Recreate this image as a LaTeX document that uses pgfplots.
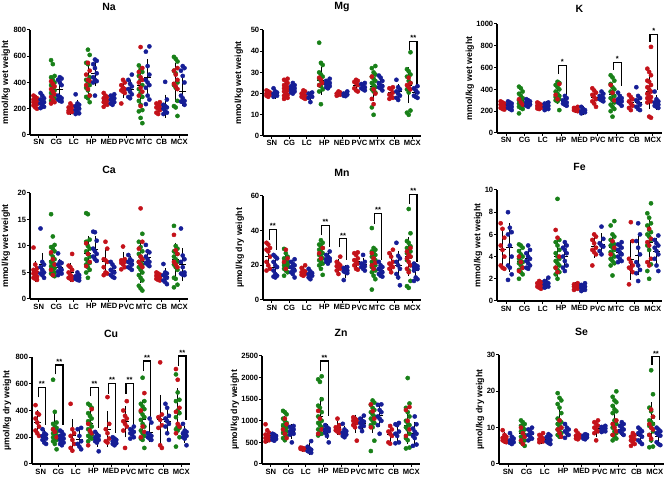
\documentclass[border=0pt]{standalone}
\usepackage{fontspec}
\setmainfont{Liberation Sans}
\usepackage{pgfplots}
\pgfplotsset{compat=1.18}
\definecolor{cred}{RGB}{196,18,26}
\definecolor{cgreen}{RGB}{24,128,24}
\definecolor{cblue}{RGB}{22,30,150}
\pgfplotsset{
  elem/.style={scale only axis, anchor=south west, xmin=0.5, xmax=9.5, ymin=0, clip=false,
    width=158pt,
    axis x line*=bottom, axis y line*=left, axis line style={line width=1.2pt},
    xtick={1,...,9}, xticklabels={SN,CG,LC,HP,MED,PVC,MTC,CB,MCX},
    tick align=outside, major tick length=3pt, tick style={line width=1pt, black},
    tick label style={font=\bfseries\fontsize{7.6}{9}\selectfont},
    x tick label style={inner sep=1.5pt},
    y tick label style={inner sep=0.6pt},
    /pgf/number format/assume math mode=true, /pgf/number format/1000 sep={},
    title style={font=\bfseries\fontsize{10.5}{12}\selectfont, at={(0.5,1)}, anchor=center, yshift=17pt},
    ylabel style={font=\bfseries\fontsize{8.8}{10}\selectfont, anchor=center}},
  yl/.style={ylabel style={at={(axis description cs:#1,0.5)}}},
  L/.style={only marks, mark=*, mark size=2.1pt, x filter/.expression={x-0.2+0.1*(mod(\coordindex,3)-1)}},
  R/.style={only marks, mark=*, mark size=2.1pt, x filter/.expression={x+0.2+0.1*(mod(\coordindex,3)-1)}},
  EB/.style={only marks, black, mark=-, mark size=3.5pt, mark options={line width=0.9pt},
    error bars/.cd, y dir=both, y explicit, error bar style={line width=0.8pt, black},
    error mark options={mark size=2.2pt, line width=0.8pt, black}},
  EBL/.style={x filter/.expression={x-0.2}, EB},
  EBR/.style={x filter/.expression={x+0.2}, EB},
}
% bracket: left x, right x, top, left bottom, right bottom, text
\newcommand{\brk}[6]{%
  \draw[line width=1.2pt] (axis cs:#1,#4) -- (axis cs:#1,#3) -- (axis cs:#2,#3) -- (axis cs:#2,#5);
  \node[font=\bfseries\fontsize{7.5}{8}\selectfont, anchor=south, inner sep=0.6pt] at (axis cs:{(#1+#2)/2},#3) {#6};}
\begin{document}
\begin{tikzpicture}
\useasboundingbox (0,0) rectangle (669pt,478pt);

% ---------------- Na
\begin{axis}[elem, at={(30pt,343pt)}, height=105pt, ymax=800, ytick={0,200,...,800},
  title={Na}, ylabel={mmol/kg wet weight}, yl=-0.152]
\addplot[EBL] coordinates {(1,250)+-(0,30) (2,350)+-(0,80) (3,195)+-(0,25) (4,420)+-(0,110) (5,265)+-(0,30) (6,350)+-(0,50) (7,380)+-(0,140) (8,205)+-(0,35) (9,400)+-(0,130)};
\addplot[EBR] coordinates {(1,250)+-(0,35) (2,350)+-(0,75) (3,210)+-(0,40) (4,470)+-(0,80) (5,270)+-(0,25) (6,350)+-(0,55) (7,440)+-(0,120) (8,220)+-(0,70) (9,335)+-(0,95)};
\addplot[L, cgreen] coordinates {
(2,570)(2,540)(2,450)(2,440)(2,420)(2,400)(2,380)(2,360)(2,340)(2,320)(2,300)(2,280)(2,260)
(4,650)(4,610)(4,550)(4,540)(4,440)(4,420)(4,400)(4,380)(4,360)(4,340)(4,300)(4,290)(4,280)(4,250)
(7,530)(7,500)(7,480)(7,450)(7,420)(7,380)(7,350)(7,320)(7,290)(7,260)(7,230)(7,190)(7,180)(7,130)(7,90)
(9,595)(9,580)(9,560)(9,490)(9,470)(9,400)(9,380)(9,360)(9,260)(9,220)(9,210)(9,145)};
\addplot[L, cred] coordinates {
(1,300)(1,290)(1,280)(1,270)(1,260)(1,255)(1,250)(1,240)(1,235)(1,225)(1,210)(1,200)
(2,410)(2,390)(2,370)(2,350)(2,330)(2,310)(2,290)(2,270)(2,250)(2,240)
(3,240)(3,220)(3,210)(3,200)(3,190)(3,185)(3,180)(3,175)(3,170)
(4,550)(4,490)(4,460)(4,420)(4,410)(4,380)(4,350)(4,300)
(5,320)(5,300)(5,290)(5,280)(5,270)(5,260)(5,250)(5,240)(5,230)(5,215)
(6,420)(6,400)(6,380)(6,360)(6,350)(6,340)(6,330)(6,320)(6,240)
(7,670)(7,510)(7,480)(7,440)(7,420)(7,400)(7,360)(7,330)(7,300)(7,220)
(8,250)(8,240)(8,230)(8,220)(8,210)(8,200)(8,190)(8,170)(8,160)
(9,510)(9,490)(9,460)(9,420)(9,390)(9,370)(9,350)};
\addplot[R, cblue] coordinates {
(1,320)(1,300)(1,280)(1,270)(1,260)(1,250)(1,240)(1,230)(1,215)(1,205)
(2,440)(2,430)(2,420)(2,400)(2,380)(2,300)(2,290)(2,280)(2,270)(2,260)(2,255)
(3,310)(3,240)(3,230)(3,220)(3,210)(3,200)(3,190)(3,175)(3,165)(3,160)
(4,575)(4,565)(4,540)(4,510)(4,470)(4,440)(4,420)(4,410)(4,400)(4,300)
(5,310)(5,300)(5,290)(5,280)(5,270)(5,260)(5,250)(5,240)(5,230)
(6,460)(6,420)(6,390)(6,370)(6,350)(6,330)(6,310)(6,290)(6,280)
(7,675)(7,635)(7,525)(7,460)(7,420)(7,400)(7,380)(7,360)(7,300)(7,270)(7,235)
(8,405)(8,270)(8,230)(8,220)(8,210)(8,200)(8,180)(8,170)(8,160)
(9,525)(9,510)(9,490)(9,450)(9,400)(9,300)(9,280)(9,260)(9,255)(9,250)(9,230)};
\end{axis}

% ---------------- Mg
\begin{axis}[elem, at={(263pt,342pt)}, height=106pt, ymax=50, ytick={0,10,...,50},
  xticklabels={SN,CG,LC,HP,NED,PVC,MTX,CB,MCX},
  title={Mg}, ylabel={mmol/kg wet weight}, yl=-0.152]
\addplot[EBL] coordinates {(1,20)+-(0,1) (2,22.5)+-(0,2.8) (3,19.5)+-(0,1.3) (4,26)+-(0,5.5) (5,20)+-(0,0.7) (6,24)+-(0,2) (7,23.5)+-(0,6) (8,20.5)+-(0,2) (9,24)+-(0,7.5)};
\addplot[EBR] coordinates {(1,20)+-(0,1.3) (2,22.3)+-(0,1.5) (3,18.7)+-(0,1.5) (4,24.5)+-(0,1.4) (5,19.7)+-(0,0.7) (6,23)+-(0,1.2) (7,24.5)+-(0,2.2) (8,20.8)+-(0,2.6) (9,20.5)+-(0,2)};
\addplot[L, cgreen] coordinates {
(4,44)(4,34.5)(4,33.5)(4,30)(4,29)(4,28)(4,27)(4,26)(4,25)(4,24)(4,23.5)(4,22)(4,21)(4,15)
(7,33)(7,32)(7,30)(7,29)(7,28)(7,27)(7,26)(7,25)(7,24)(7,23)(7,22)(7,21)(7,20.5)(7,13.5)(7,10)
(9,39.5)(9,31.5)(9,30.5)(9,29)(9,28)(9,26)(9,25)(9,22)(9,20.5)(9,12)(9,11)(9,10)};
\addplot[L, cred] coordinates {
(1,21.5)(1,21)(1,20.5)(1,20)(1,20)(1,19.5)(1,19)(1,18.5)
(2,27)(2,26.5)(2,26)(2,25)(2,24)(2,23.5)(2,23)(2,22.5)(2,22)(2,21.5)(2,21)(2,20)(2,19.5)(2,19)(2,18.5)(2,18)(2,17.5)
(3,21.5)(3,21)(3,20)(3,19.5)(3,19)(3,18.5)(3,18)(3,17.5)
(4,27.5)(4,26.5)(4,25)(4,24)
(5,21)(5,20.5)(5,20)(5,19.8)(5,19.5)(5,19)
(6,26.5)(6,26)(6,25.5)(6,25)(6,24)(6,22.5)(6,21.5)(6,21)
(7,28)(7,22)(7,20)(7,17.5)(7,15)
(8,23)(8,22.5)(8,22)(8,20.5)(8,19.5)(8,19)(8,18)(8,17.5)
(9,27.5)(9,25)(9,24)(9,23)(9,22)};
\addplot[R, cblue] coordinates {
(1,22.5)(1,21)(1,20.5)(1,20)(1,19.5)(1,19)(1,18.5)
(2,25)(2,24)(2,23.5)(2,23)(2,22.5)(2,22)(2,21.5)(2,21)(2,20.5)(2,20)
(3,20.5)(3,20)(3,19)(3,18.5)(3,18)(3,16)
(4,27)(4,26)(4,25.5)(4,25)(4,24.5)(4,24)(4,23.5)(4,23)(4,22.5)
(5,21)(5,20)(5,19.7)(5,19.5)(5,19)(5,18.8)
(6,25)(6,24.5)(6,23.5)(6,23)(6,22.5)(6,22)(6,21.5)
(7,28.5)(7,27.5)(7,26)(7,25)(7,24)(7,23.5)(7,23)(7,22.5)(7,21.5)
(8,26.5)(8,23)(8,22)(8,21)(8,20)(8,19)(8,18)(8,17)
(9,23.5)(9,22.5)(9,21.5)(9,20.5)(9,19)(9,18.5)(9,18)};
\brk{8.85}{9.27}{44.5}{40.6}{24}{**}
\end{axis}

% ---------------- K
\begin{axis}[elem, at={(497pt,345pt)}, width=165pt, height=109pt, ymax=1000, ytick={0,200,...,1000},
  title={K}, title style={yshift=-8pt}, ylabel={mmol/kg wet weight}, yl=-0.164]
\addplot[EBL] coordinates {(1,250)+-(0,25) (2,295)+-(0,60) (3,247)+-(0,20) (4,350)+-(0,65) (5,215)+-(0,13) (6,330)+-(0,55) (7,350)+-(0,90) (8,280)+-(0,50) (9,380)+-(0,140)};
\addplot[EBR] coordinates {(1,250)+-(0,27) (2,275)+-(0,25) (3,245)+-(0,25) (4,290)+-(0,32) (5,205)+-(0,20) (6,330)+-(0,30) (7,300)+-(0,35) (8,280)+-(0,60) (9,280)+-(0,45)};
\addplot[L, cgreen] coordinates {
(2,425)(2,410)(2,380)(2,360)(2,340)(2,320)(2,300)(2,290)(2,280)(2,270)(2,260)(2,250)(2,240)(2,230)(2,220)(2,180)
(4,470)(4,460)(4,440)(4,420)(4,400)(4,380)(4,360)(4,340)(4,330)(4,320)(4,310)(4,300)(4,290)(4,210)
(7,530)(7,510)(7,480)(7,450)(7,420)(7,400)(7,380)(7,360)(7,340)(7,320)(7,300)(7,280)(7,260)(7,240)(7,220)(7,200)(7,150)};
\addplot[L, cred] coordinates {
(1,290)(1,280)(1,270)(1,260)(1,250)(1,240)(1,230)(1,220)(1,215)
(2,310)(2,280)(2,260)
(3,280)(3,270)(3,260)(3,250)(3,240)(3,230)(3,225)(3,220)
(4,450)(4,350)(4,310)
(5,240)(5,230)(5,220)(5,215)(5,210)(5,205)(5,200)
(6,410)(6,390)(6,370)(6,350)(6,330)(6,310)(6,290)(6,270)(6,240)
(7,440)(7,370)(7,300)
(8,350)(8,330)(8,310)(8,290)(8,270)(8,250)(8,230)(8,210)
(9,790)(9,590)(9,560)(9,530)(9,480)(9,470)(9,440)(9,420)(9,400)(9,380)(9,360)(9,340)(9,330)(9,320)(9,300)(9,290)(9,280)(9,150)(9,140)};
\addplot[R, cblue] coordinates {
(1,290)(1,280)(1,270)(1,260)(1,250)(1,240)(1,230)(1,220)(1,210)
(2,310)(2,300)(2,290)(2,280)(2,270)(2,260)(2,250)(2,240)
(3,280)(3,270)(3,260)(3,250)(3,240)(3,230)(3,220)(3,210)
(4,340)(4,320)(4,300)(4,290)(4,280)(4,270)(4,260)(4,250)
(5,240)(5,220)(5,210)(5,200)(5,195)(5,190)(5,180)
(6,380)(6,360)(6,340)(6,330)(6,320)(6,310)(6,300)(6,290)
(7,370)(7,340)(7,320)(7,310)(7,300)(7,290)(7,280)(7,270)(7,250)
(8,420)(8,340)(8,320)(8,300)(8,280)(8,260)(8,240)(8,220)(8,210)
(9,380)(9,310)(9,290)(9,280)(9,270)(9,260)(9,250)(9,240)(9,230)};
\brk{3.85}{4.27}{620}{540}{353}{*}
\brk{6.85}{7.27}{650}{577}{432}{*}
\brk{8.85}{9.27}{905}{837}{399}{*}
\end{axis}

% ---------------- Ca
\begin{axis}[elem, at={(30pt,179pt)}, height=106pt, ymax=20, ytick={0,5,...,20},
  title={Ca}, ylabel={mmol/kg wet weight}, yl=-0.152]
\addplot[EBL] coordinates {(1,5.2)+-(0,1.6) (2,7.2)+-(0,2.5) (3,5)+-(0,1.4) (4,8.5)+-(0,3) (5,7)+-(0,2.1) (6,7.2)+-(0,1.2) (7,7)+-(0,3.5) (8,4.2)+-(0,0.5) (9,7.4)+-(0,2.8)};
\addplot[EBR] coordinates {(1,6.5)+-(0,1.8) (2,6)+-(0,1.2) (3,4.1)+-(0,0.5) (4,9.4)+-(0,2.1) (5,5.3)+-(0,1) (6,6.8)+-(0,0.9) (7,7.8)+-(0,1.3) (8,4.3)+-(0,1.1) (9,6.5)+-(0,2.7)};
\addplot[L, cgreen] coordinates {
(2,16)(2,11.8)(2,10.2)(2,9.8)(2,9.5)(2,9)(2,8.5)(2,8)(2,7.5)(2,7)(2,6.8)(2,6.5)(2,6.2)(2,6)(2,5.8)(2,5.5)(2,5.2)(2,5)(2,4.8)(2,4.5)(2,4.3)
(4,16.2)(4,16)(4,11.2)(4,10.8)(4,10)(4,9.5)(4,9)(4,8.5)(4,8)(4,7.5)(4,7)(4,6.8)(4,6.5)(4,6)(4,5.5)(4,5)(4,4)
(7,12.3)(7,10.8)(7,9.8)(7,9)(7,8.5)(7,8)(7,7.5)(7,7)(7,6.8)(7,6.5)(7,6)(7,5.5)(7,5)(7,4.5)(7,4)(7,3.5)(7,2.5)(7,2)(7,1.6)
(9,13.8)(9,10)(9,9.5)(9,9)(9,8.8)(9,8.5)(9,8)(9,7.5)(9,7)(9,6.5)(9,6)(9,5.5)(9,4)(9,3.8)(9,2.7)(9,2.2)};
\addplot[L, cred] coordinates {
(1,9.7)(1,6.5)(1,5.8)(1,5.5)(1,5.2)(1,5)(1,4.8)(1,4.5)(1,4.2)(1,4)(1,3.8)(1,3.6)
(2,8.8)(2,7.5)(2,6.5)(2,5.5)(2,4.5)
(3,8.5)(3,6.3)(3,6)(3,5.5)(3,5)(3,4.5)(3,4.2)(3,4)(3,3.8)(3,3.6)
(4,10.5)(4,8.5)(4,7)(4,6.2)
(5,10.8)(5,9.5)(5,7.5)(5,7.3)(5,7)(5,6)(5,5)(5,4.8)(5,4.5)
(6,9.9)(6,7.5)(6,7.3)(6,7.2)(6,7)(6,6.8)(6,6.5)(6,6)(6,5.6)
(7,17.1)(7,10.8)(7,9.5)(7,8)(7,7.5)(7,7)(7,6.5)(7,6)
(8,5)(8,4.8)(8,4.6)(8,4.4)(8,4.2)(8,4)(8,3.8)(8,3.6)(8,3.5)
(9,12.1)(9,9.2)(9,8.5)(9,7)(9,6.5)(9,6)};
\addplot[R, cblue] coordinates {
(1,13.3)(1,7)(1,6.5)(1,6)(1,5.5)(1,5)(1,4.8)(1,4.5)(1,4)
(2,8.6)(2,7)(2,6.8)(2,6.5)(2,6)(2,5.5)(2,5.2)(2,5)(2,4.8)(2,4.5)
(3,5)(3,4.5)(3,4.3)(3,4.2)(3,4)(3,3.8)(3,3.6)(3,3.5)
(4,12.7)(4,12.6)(4,11)(4,9.5)(4,9)(4,8.5)(4,8)(4,7.5)(4,7.2)
(5,7)(5,6.5)(5,6)(5,5.5)(5,5.2)(5,5)(5,4.5)(5,4.2)(5,4)
(6,8.3)(6,7.5)(6,7.2)(6,7)(6,6.8)(6,6.5)(6,6)(6,5.8)(6,5.5)
(7,10.2)(7,9)(7,8.8)(7,8)(7,7.5)(7,7)(7,6.8)(7,6.5)(7,6.2)
(8,6.6)(8,5)(8,4.8)(8,4.5)(8,4.2)(8,4)(8,3.5)(8,3.2)(8,2.8)
(9,13.3)(9,8.2)(9,7.5)(9,7)(9,6)(9,5)(9,4.8)(9,4.6)(9,4.5)};
\end{axis}

% ---------------- Mn
\begin{axis}[elem, at={(263pt,178pt)}, height=104pt, ymax=60, ytick={0,20,40,60},
  title={Mn}, ylabel={µmol/kg dry weight}, yl=-0.146]
\addplot[EBL] coordinates {(1,25)+-(0,6) (2,21)+-(0,3.8) (3,16.3)+-(0,1.9) (4,26)+-(0,5) (5,19.5)+-(0,3) (6,22.5)+-(0,3.5) (7,21)+-(0,6.5) (8,21.6)+-(0,4.2) (9,25)+-(0,10)};
\addplot[EBR] coordinates {(1,19)+-(0,4.5) (2,18.4)+-(0,3.2) (3,14.8)+-(0,1.9) (4,23.8)+-(0,2.1) (5,16.4)+-(0,2.3) (6,20.3)+-(0,2.8) (7,17.1)+-(0,2.8) (8,20)+-(0,7) (9,16.9)+-(0,3.5)};
\addplot[L, cgreen] coordinates {
(2,29.5)(2,27)(2,25)(2,24)(2,23)(2,22)(2,21.5)(2,21)(2,20.5)(2,20)(2,19.5)(2,19)(2,18)(2,17)(2,16)(2,14)
(4,34.5)(4,33)(4,32)(4,31)(4,30)(4,29)(4,28)(4,27)(4,26)(4,25)(4,24)(4,23)(4,22)(4,21)(4,20)(4,18)(4,14.5)
(7,41.5)(7,30)(7,29)(7,28)(7,27)(7,26)(7,25)(7,24)(7,23)(7,22)(7,21)(7,20)(7,19)(7,18)(7,17)(7,16)(7,14)(7,12)(7,6)
(9,52.5)(9,38.5)(9,34)(9,33)(9,31)(9,30)(9,29)(9,28)(9,27)(9,26)(9,25)(9,23)(9,17)(9,11)(9,8)(9,7)};
\addplot[L, cred] coordinates {
(1,33)(1,32)(1,30)(1,29)(1,28)(1,25)(1,22)(1,20)(1,18)(1,17)
(2,29)(2,24)(2,22)(2,18)
(3,20)(3,18.5)(3,17)(3,16.5)(3,16)(3,15.5)(3,15)(3,14.5)(3,14)
(4,30)(4,27)(4,24)
(5,25)(5,22)(5,21)(5,20)(5,19.5)(5,19)(5,18)(5,17)(5,15)
(6,27.5)(6,27)(6,26)(6,24)(6,23)(6,22)(6,21)(6,20)(6,18)(6,17.5)
(7,27)(7,24)(7,21.5)(7,20)(7,18)
(8,29)(8,27)(8,25)(8,22)(8,21)(8,20)(8,19)(8,18)(8,16)
(9,30)(9,28)(9,26)(9,25)(9,24)(9,22)(9,20)(9,18)(9,16)};
\addplot[R, cblue] coordinates {
(1,26)(1,25)(1,24)(1,22)(1,20)(1,19)(1,17)(1,15)(1,14)(1,13.5)(1,13)
(2,23.5)(2,22)(2,21)(2,20)(2,19)(2,18)(2,17)(2,16)(2,15)(2,13)
(3,18)(3,16.5)(3,15.5)(3,15)(3,14.5)(3,14)(3,13)(3,12)
(4,28)(4,26)(4,25)(4,24)(4,23.5)(4,23)(4,22.5)(4,22)(4,21)
(5,19)(5,18.5)(5,17.5)(5,17)(5,16.5)(5,16)(5,15.5)(5,11.5)
(6,26)(6,22)(6,21)(6,20)(6,19.5)(6,19)(6,18)(6,17)
(7,22)(7,20)(7,19)(7,18)(7,17)(7,16)(7,15)(7,14)(7,13.5)
(8,33)(8,25.5)(8,24)(8,22)(8,20)(8,18)(8,15)(8,13)(8,8.5)
(9,21)(9,20)(9,19.5)(9,19)(9,18.5)(9,18)(9,17)(9,13)(9,12)(9,11)};
\brk{0.85}{1.27}{40.8}{34.9}{28.8}{**}
\brk{3.85}{4.27}{42.9}{37.4}{30.3}{**}
\brk{4.85}{5.27}{35.3}{30.3}{23}{**}
\brk{6.85}{7.27}{49.8}{44}{23}{**}
\brk{8.85}{9.27}{60.8}{55.6}{22}{**}
\end{axis}

% ---------------- Fe
\begin{axis}[elem, at={(497pt,177pt)}, width=165pt, height=111pt, ymax=10, ytick={0,2,...,10},
  title={Fe}, ylabel={mmol/kg wet weight}, yl=-0.115]
\addplot[EBL] coordinates {(1,4.6)+-(0,1.6) (2,3.6)+-(0,0.9) (3,1.45)+-(0,0.25) (4,4)+-(0,1.6) (5,1.3)+-(0,0.2) (6,4.9)+-(0,0.8) (7,4.8)+-(0,1.1) (8,3.7)+-(0,1.6) (9,5.3)+-(0,1.8)};
\addplot[EBR] coordinates {(1,4.8)+-(0,2) (2,3.8)+-(0,0.7) (3,1.58)+-(0,0.3) (4,4)+-(0,0.9) (5,1.24)+-(0,0.22) (6,5.1)+-(0,0.8) (7,4.4)+-(0,0.6) (8,4.1)+-(0,1.6) (9,4.5)+-(0,1)};
\addplot[L, cgreen] coordinates {
(2,5.1)(2,5)(2,4.8)(2,4.5)(2,4.2)(2,4)(2,3.8)(2,3.6)(2,3.5)(2,3.4)(2,3.2)(2,3)(2,2.8)(2,2.6)(2,2.4)(2,2)
(4,9.2)(4,5.5)(4,5.3)(4,5)(4,4.6)(4,4.3)(4,4)(4,3.8)(4,3.6)(4,3.4)(4,3.2)(4,3)(4,2.8)(4,2.6)(4,2.4)(4,2)
(7,7.2)(7,6.8)(7,6)(7,5.8)(7,5.5)(7,5.3)(7,5.1)(7,5)(7,4.8)(7,4.6)(7,4.4)(7,4.2)(7,4)(7,3.8)(7,3.6)(7,3.4)(7,3.2)(7,2.3)
(9,8.8)(9,7.9)(9,7.5)(9,7)(9,6.8)(9,6.4)(9,6.2)(9,6)(9,5.8)(9,5.5)(9,5)(9,4.6)(9,3.3)(9,2.7)(9,2)};
\addplot[L, cred] coordinates {
(1,7)(1,6.5)(1,5.7)(1,5)(1,4.6)(1,4)(1,3.2)(1,3)(1,2.9)
(2,4)(2,3.5)(2,3)(2,2.7)
(3,1.8)(3,1.7)(3,1.6)(3,1.5)(3,1.4)(3,1.3)(3,1.2)(3,1.1)
(4,6.4)(4,5.7)(4,4)(4,3)(4,2.6)
(5,1.6)(5,1.5)(5,1.4)(5,1.35)(5,1.3)(5,1.2)(5,1.1)(5,1.0)
(6,6)(6,5.8)(6,5.5)(6,5.2)(6,4.8)(6,4.6)(6,4.4)(6,4.2)(6,3.2)
(7,5.4)(7,4.8)(7,4.2)
(8,7.1)(8,5.4)(8,3.8)(8,3.5)(8,3.2)(8,3)(8,2.9)(8,2.6)(8,1.5)
(9,6.5)(9,5.6)(9,5.3)(9,5)(9,3.8)(9,3.5)(9,3.2)};
\addplot[R, cblue] coordinates {
(1,8)(1,6.6)(1,6.2)(1,6)(1,5)(1,4)(1,3.2)(1,3)(1,2.4)(1,1.9)
(2,5)(2,4.6)(2,4.3)(2,4)(2,3.8)(2,3.6)(2,3.4)(2,3.2)(2,3)(2,2.9)
(3,2.1)(3,1.8)(3,1.7)(3,1.6)(3,1.5)(3,1.4)(3,1.3)(3,1.2)
(4,5.3)(4,5)(4,4.8)(4,4.6)(4,4.3)(4,4)(4,3.6)(4,3.2)(4,3)(4,2.7)
(5,1.6)(5,1.45)(5,1.35)(5,1.3)(5,1.2)(5,1.1)(5,1.0)(5,0.9)
(6,6.7)(6,5.6)(6,5.2)(6,5)(6,4.9)(6,4.5)(6,4.2)
(7,5.3)(7,5.1)(7,5)(7,4.8)(7,4.6)(7,4.4)(7,4.2)(7,4)(7,3.8)(7,3.6)(7,3.5)
(8,7)(8,6)(8,5.4)(8,4.8)(8,4.2)(8,3.5)(8,3.2)(8,2.8)(8,2.5)(8,1.8)
(9,5.9)(9,5.5)(9,5.2)(9,5)(9,4.8)(9,4.5)(9,4.2)(9,3.8)(9,3.2)(9,2.7)};
\end{axis}

% ---------------- Cu
\begin{axis}[elem, at={(32pt,14pt)}, height=107pt, ymax=800, ytick={0,200,...,800},
  title={Cu}, ylabel={µmol/kg dry weight}, yl=-0.158]
\addplot[EBL] coordinates {(1,310)+-(0,80) (2,260)+-(0,110) (3,210)+-(0,110) (4,300)+-(0,90) (5,260)+-(0,120) (6,315)+-(0,100) (7,330)+-(0,130) (8,330)+-(0,170) (9,390)+-(0,160)};
\addplot[EBR] coordinates {(1,200)+-(0,35) (2,190)+-(0,35) (3,185)+-(0,60) (4,185)+-(0,40) (5,168)+-(0,20) (6,234)+-(0,30) (7,235)+-(0,55) (8,320)+-(0,85) (9,220)+-(0,45)};
\addplot[L, cgreen] coordinates {
(2,630)(2,390)(2,310)(2,300)(2,280)(2,270)(2,260)(2,250)(2,240)(2,230)(2,220)(2,210)(2,200)(2,190)(2,180)(2,170)(2,150)(2,110)
(4,450)(4,440)(4,420)(4,380)(4,360)(4,340)(4,320)(4,300)(4,280)(4,260)(4,240)(4,220)(4,210)(4,200)(4,190)(4,170)
(7,645)(7,470)(7,450)(7,430)(7,410)(7,390)(7,370)(7,350)(7,330)(7,300)(7,280)(7,250)(7,230)(7,210)(7,190)(7,180)(7,120)
(9,670)(9,535)(9,480)(9,470)(9,400)(9,380)(9,350)(9,280)(9,270)(9,260)(9,250)(9,200)(9,130)};
\addplot[L, cred] coordinates {
(1,440)(1,380)(1,370)(1,340)(1,310)(1,280)(1,250)(1,230)(1,210)
(2,260)(2,240)(2,200)
(3,450)(3,260)(3,230)(3,210)(3,180)(3,150)(3,120)(3,100)
(4,410)(4,300)(4,250)(4,230)(4,140)
(5,500)(5,300)(5,260)(5,230)(5,190)(5,170)(5,160)
(6,470)(6,400)(6,360)(6,340)(6,320)(6,300)(6,280)(6,250)(6,120)
(7,530)(7,400)(7,280)(7,240)(7,200)
(8,760)(8,370)(8,350)(8,330)(8,290)(8,270)(8,140)(8,120)
(9,710)(9,630)(9,420)(9,390)(9,300)(9,280)(9,230)};
\addplot[R, cblue] coordinates {
(1,260)(1,230)(1,220)(1,210)(1,200)(1,190)(1,180)(1,160)(1,150)
(2,250)(2,240)(2,220)(2,210)(2,200)(2,190)(2,180)(2,170)(2,160)(2,150)(2,140)
(3,270)(3,260)(3,210)(3,170)(3,150)(3,130)(3,110)
(4,240)(4,220)(4,210)(4,200)(4,190)(4,180)(4,170)(4,160)(4,95)
(5,200)(5,190)(5,180)(5,170)(5,160)(5,155)(5,150)(5,140)
(6,280)(6,260)(6,250)(6,240)(6,230)(6,220)(6,200)(6,190)
(7,340)(7,310)(7,230)(7,220)(7,210)(7,200)(7,190)(7,180)
(8,450)(8,420)(8,360)(8,340)(8,320)(8,300)(8,280)(8,230)(8,180)
(9,300)(9,250)(9,240)(9,230)(9,220)(9,210)(9,200)(9,190)(9,140)};
\brk{0.85}{1.27}{574}{499}{293}{**}
\brk{1.85}{2.27}{740}{670}{293}{**}
\brk{3.85}{4.27}{574}{506}{268}{**}
\brk{4.85}{5.27}{600}{524}{230}{**}
\brk{5.85}{6.27}{600}{524}{293}{**}
\brk{6.85}{7.27}{770}{695}{318}{**}
\brk{8.85}{9.27}{808}{732}{331}{**}
\end{axis}

% ---------------- Zn
\begin{axis}[elem, at={(262pt,14pt)}, height=108pt, ymax=2500, ytick={0,500,...,2500},
  title={Zn}, ylabel={µmol/kg dry weight}, yl=-0.171]
\addplot[EBL] coordinates {(1,660)+-(0,120) (2,860)+-(0,190) (3,355)+-(0,18) (4,1100)+-(0,390) (5,840)+-(0,110) (6,930)+-(0,160) (7,1060)+-(0,290) (8,680)+-(0,150) (9,900)+-(0,380)};
\addplot[EBR] coordinates {(1,615)+-(0,55) (2,750)+-(0,120) (3,350)+-(0,90) (4,755)+-(0,120) (5,735)+-(0,95) (6,950)+-(0,110) (7,1130)+-(0,220) (8,730)+-(0,190) (9,710)+-(0,220)};
\addplot[L, cgreen] coordinates {
(2,1230)(2,1200)(2,1150)(2,1050)(2,1000)(2,950)(2,900)(2,870)(2,840)(2,810)(2,780)(2,750)(2,720)(2,690)(2,650)(2,600)(2,550)
(4,2030)(4,1960)(4,1900)(4,1500)(4,1350)(4,1300)(4,1200)(4,1100)(4,1050)(4,1000)(4,950)(4,900)(4,850)(4,800)(4,750)(4,700)(4,660)
(7,1470)(7,1420)(7,1370)(7,1300)(7,1250)(7,1200)(7,1150)(7,1100)(7,1050)(7,1000)(7,950)(7,900)(7,850)(7,540)(7,300)
(9,1990)(9,1400)(9,1300)(9,1200)(9,1100)(9,1000)(9,950)(9,900)(9,850)(9,800)(9,700)(9,600)(9,550)(9,380)(9,360)};
\addplot[L, cred] coordinates {
(1,920)(1,780)(1,720)(1,680)(1,650)(1,620)(1,600)(1,580)(1,550)(1,520)
(2,1050)(2,920)(2,800)(2,700)(2,600)
(3,380)(3,370)(3,360)(3,350)(3,340)(3,330)
(4,1230)(4,1050)(4,800)(4,700)
(5,1050)(5,900)(5,850)(5,820)(5,800)(5,780)(5,750)(5,720)
(6,1080)(6,1050)(6,1020)(6,1000)(6,980)(6,950)(6,900)(6,850)(6,540)
(7,1380)(7,1220)(7,1050)(7,850)
(8,880)(8,800)(8,750)(8,700)(8,650)(8,500)(8,470)
(9,1320)(9,1250)(9,1000)(9,800)(9,650)};
\addplot[R, cblue] coordinates {
(1,700)(1,680)(1,650)(1,620)(1,600)(1,580)(1,560)(1,540)
(2,880)(2,860)(2,840)(2,800)(2,760)(2,720)(2,700)(2,680)(2,500)
(3,530)(3,400)(3,360)(3,330)(3,300)(3,280)(3,260)
(4,900)(4,850)(4,820)(4,800)(4,780)(4,760)(4,720)(4,650)(4,500)
(5,930)(5,800)(5,760)(5,730)(5,700)(5,680)(5,650)(5,620)
(6,1120)(6,1050)(6,1000)(6,980)(6,950)(6,920)(6,880)(6,850)(6,760)
(7,1380)(7,1370)(7,1250)(7,1200)(7,1100)(7,1050)(7,1000)(7,900)(7,700)
(8,950)(8,920)(8,900)(8,750)(8,700)(8,650)(8,500)(8,480)
(9,1100)(9,920)(9,820)(9,750)(9,700)(9,650)(9,600)(9,450)(9,420)};
\brk{3.85}{4.27}{2383}{2150}{1102}{**}
\end{axis}

% ---------------- Se
\begin{axis}[elem, at={(499pt,14pt)}, width=165pt, height=109pt, ymax=30, ytick={0,10,20,30},
  title={Se}, ylabel={µmol/kg dry weight}, yl=-0.115]
\addplot[EBL] coordinates {(1,7.2)+-(0,1) (2,8.3)+-(0,2) (3,7)+-(0,0.9) (4,11.3)+-(0,3.7) (5,7.7)+-(0,0.8) (6,9.8)+-(0,1.7) (7,11.5)+-(0,4) (8,6.8)+-(0,1.2) (9,11.5)+-(0,5)};
\addplot[EBR] coordinates {(1,6.6)+-(0,1) (2,8.2)+-(0,1.2) (3,6.8)+-(0,0.9) (4,9.1)+-(0,1.2) (5,7.5)+-(0,0.5) (6,9.6)+-(0,0.6) (7,9.6)+-(0,1.2) (8,7.8)+-(0,1.6) (9,7.7)+-(0,1.8)};
\addplot[L, cgreen] coordinates {
(2,12)(2,11.5)(2,11)(2,10.5)(2,10)(2,9.5)(2,9)(2,8.5)(2,8)(2,7.5)(2,7)(2,6.5)(2,6)(2,5.5)(2,5)
(4,19.5)(4,18.2)(4,17.5)(4,16.5)(4,15.5)(4,14)(4,12.5)(4,12)(4,11.5)(4,11)(4,10.5)(4,10)(4,9.5)(4,9)(4,8.5)(4,8)(4,7.5)
(7,20)(7,18.5)(7,17.5)(7,17)(7,16)(7,15)(7,14.5)(7,14)(7,12)(7,11)(7,10)(7,9)(7,8.5)(7,8)(7,7.5)(7,7)(7,6.5)
(9,25.8)(9,19.2)(9,15.5)(9,14.5)(9,13)(9,12)(9,11.5)(9,11)(9,10.5)(9,10)(9,9)(9,8)(9,6.5)(9,4.8)(9,4.6)};
\addplot[L, cred] coordinates {
(1,9.3)(1,8)(1,7.5)(1,7.2)(1,7)(1,6.8)(1,6.5)(1,6.2)(1,6)
(2,10)(2,8.5)(2,7.5)(2,6.5)(2,5.5)
(3,8.5)(3,8)(3,7.5)(3,7)(3,6.8)(3,6.5)(3,6.2)(3,6)
(4,12)(4,10)(4,9.5)(4,8.5)(4,7.5)
(5,9.2)(5,8.5)(5,8)(5,7.8)(5,7.5)(5,7.3)(5,7)(5,6.8)
(6,12)(6,11.5)(6,11)(6,10.5)(6,10)(6,9.5)(6,9)(6,8.5)(6,6.5)
(7,12)(7,11)(7,10)(7,9)(7,8)
(8,8.5)(8,8)(8,7.5)(8,7)(8,6.8)(8,6.5)(8,6)(8,5.5)(8,5)
(9,15)(9,13)(9,11)(9,10)(9,9.5)(9,8)(9,7)};
\addplot[R, cblue] coordinates {
(1,8.5)(1,7.5)(1,7)(1,6.5)(1,6.3)(1,6)(1,5.8)(1,5.5)
(2,10)(2,9.5)(2,9)(2,8.5)(2,8)(2,7.5)(2,7)(2,6.5)
(3,8.2)(3,7.8)(3,7.4)(3,7)(3,6.6)(3,6.2)(3,5.8)(3,5.5)
(4,11)(4,10)(4,9.5)(4,9)(4,8.5)(4,8)(4,7.2)
(5,8.2)(5,8)(5,7.8)(5,7.5)(5,7.3)(5,7)(5,6.8)
(6,10.5)(6,10.2)(6,10)(6,9.8)(6,9.5)(6,9.2)(6,9)(6,8.8)
(7,11.5)(7,11)(7,10.5)(7,10)(7,9.5)(7,9)(7,8.5)(7,8)
(8,10)(8,9.5)(8,9)(8,8.5)(8,8)(8,7.5)(8,6.5)(8,6)(8,5.5)
(9,10)(9,9.5)(9,9)(9,8.5)(9,8)(9,7.8)(9,6)(9,5.5)(9,5.2)};
\brk{8.85}{9.27}{29.5}{27.3}{12}{**}
\end{axis}
\end{tikzpicture}
\end{document}
